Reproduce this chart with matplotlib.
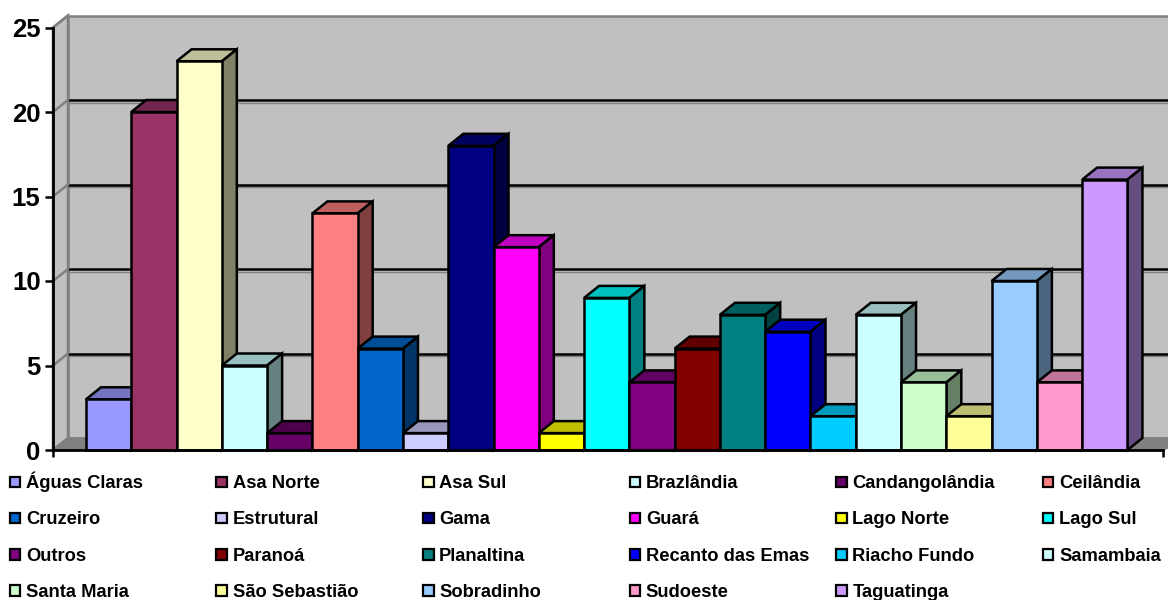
import matplotlib
matplotlib.use("Agg")
import matplotlib.pyplot as plt
from matplotlib.colors import to_rgb
from matplotlib.patches import Polygon, Rectangle

regions = ["Águas Claras", "Asa Norte", "Asa Sul", "Brazlândia", "Candangolândia", "Ceilândia",
           "Cruzeiro", "Estrutural", "Gama", "Guará", "Lago Norte", "Lago Sul",
           "Outros", "Paranoá", "Planaltina", "Recanto das Emas", "Riacho Fundo", "Samambaia",
           "Santa Maria", "São Sebastião", "Sobradinho", "Sudoeste", "Taguatinga"]
counts = [3, 20, 23, 5, 1, 14, 6, 1, 18, 12, 1, 9, 4, 6, 8, 7, 2, 8, 4, 2, 10, 4, 16]
colors = ["#9999FF", "#993366", "#FFFFCC", "#CCFFFF", "#660066", "#FF8080",
          "#0066CC", "#CCCCFF", "#000080", "#FF00FF", "#FFFF00", "#00FFFF",
          "#800080", "#800000", "#008080", "#0000FF", "#00CCFF", "#CCFFFF",
          "#CCFFCC", "#FFFF99", "#99CCFF", "#FF99CC", "#CC99FF"]
y_ticks = [0, 5, 10, 15, 20, 25]

W, H = 1168, 600
plt.rcParams["font.family"] = ["Liberation Sans", "DejaVu Sans"]
fig = plt.figure(figsize=(W / 100, H / 100), dpi=100)

# Front plane of the 3D plot, in figure pixels
left, right, bottom, top = 53, 1163, 450, 27.5
ax = fig.add_axes([left / W, 1 - bottom / H, (right - left) / W, (bottom - top) / H])
bar_px = 45.28
unit_px = (bottom - top) / 25
gap = 33 / bar_px
ax.set_xlim(-gap, -gap + (right - left) / bar_px)
ax.set_ylim(0, 25)
ax.patch.set_visible(False)

# Depth of the extrusion, converted to data units
dx = 15 / bar_px
dy = 12 / unit_px
x0, x1 = ax.get_xlim()
LW = 1.8


def shade(color, factor):
    return tuple(c * factor for c in to_rgb(color))


def poly(points, face, edge="black", lw=LW, z=2):
    ax.add_patch(Polygon(points, closed=True, facecolor=face, edgecolor=edge, linewidth=lw,
                         clip_on=False, zorder=z, joinstyle="miter"))


# Walls and floor
wall_right = x1 + 2 * dx
poly([(x0 + dx, dy), (wall_right, dy), (wall_right, 25 + dy), (x0 + dx, 25 + dy)], "#C0C0C0", "#808080", 1.8, 1)
poly([(x0, 0), (x0 + dx, dy), (x0 + dx, 25 + dy), (x0, 25)], "#C0C0C0", "#808080", 1.8, 1)
poly([(x0, 0), (x0 + dx, dy), (wall_right, dy), (x1, 0)], "#808080", "#808080", 1.0, 1)

# Gridlines run along the back wall, with a grey shadow, and down the side wall
shadow = 2.5 / unit_px
for v in y_ticks[1:-1]:
    ax.plot([x0 + dx, wall_right], [v + dy - shadow] * 2, color="#808080", lw=1.0, clip_on=False,
            zorder=1.4, solid_capstyle="butt")
    ax.plot([x0 + dx, wall_right], [v + dy, v + dy], color="black", lw=LW, clip_on=False, zorder=1.5,
            solid_capstyle="butt")
for v in y_ticks[1:]:
    ax.plot([x0, x0 + dx], [v, v + dy], color="#808080", lw=LW, clip_on=False, zorder=1.5)

# Extruded bars, painted left to right so each front covers its neighbour's side
for i, (v, c) in enumerate(zip(counts, colors)):
    z = 3 + i * 0.01
    poly([(i, v), (i + dx, v + dy), (i + 1 + dx, v + dy), (i + 1, v)], shade(c, 0.75), z=z)
    poly([(i + 1, 0), (i + 1 + dx, dy), (i + 1 + dx, v + dy), (i + 1, v)], shade(c, 0.5), z=z)
    ax.bar(i + 0.5, v, width=1, color=c, edgecolor="black", linewidth=LW, zorder=z + 0.001, clip_on=False)

# Axes
for name in ("top", "right"):
    ax.spines[name].set_visible(False)
for name in ("left", "bottom"):
    ax.spines[name].set_linewidth(2)
    ax.spines[name].set_zorder(5)
ax.set_yticks(y_ticks)
ax.set_xticks([x0, x1])
ax.set_xticklabels([])
ax.tick_params(axis="y", length=6, width=1.8, pad=3, labelsize=18.5)
ax.tick_params(axis="x", length=5, width=1.8)
for label in ax.get_yticklabels():
    label.set_fontweight("bold")

# Legend: six equal columns, four rows
col_x = [9, 215.6, 422.2, 628.8, 835.4, 1042]
row_y = [482, 518, 554.5, 590.3]
for i, (name, c) in enumerate(zip(regions, colors)):
    row, col = divmod(i, 6)
    x, y = col_x[col], row_y[row]
    fig.add_artist(Rectangle(((x + 0.8) / W, 1 - (y + 5.3) / H), 10.6 / W, 10.6 / H,
                             transform=fig.transFigure, facecolor=c, edgecolor="black", linewidth=1.6))
    fig.text((x + 17) / W, 1 - (y + 6.5) / H, name, fontsize=13.2, fontweight="bold", ha="left", va="baseline",
             color="black")

fig.savefig("out.png", dpi=100, facecolor="white")
